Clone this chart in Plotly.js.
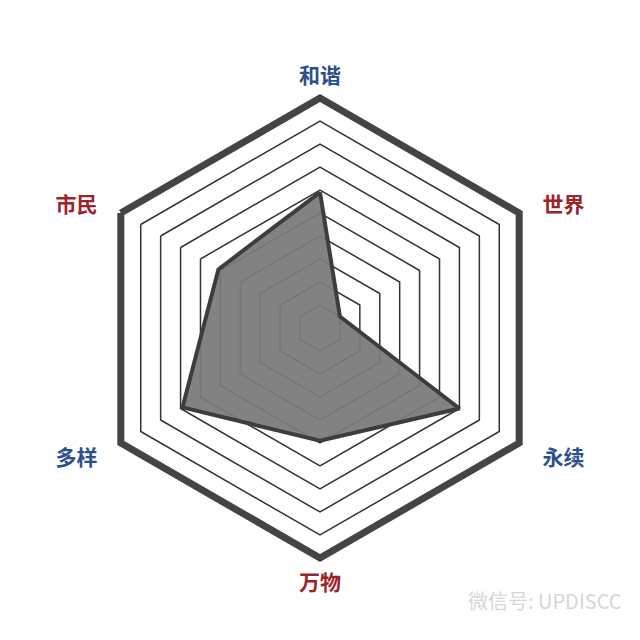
<!DOCTYPE html>
<html>
<head>
<meta charset="utf-8">
<script src="https://cdn.plot.ly/plotly-3.0.1.min.js"></script>
<style>
  html, body { margin: 0; padding: 0; background: #fff; }
  #chart { width: 640px; height: 640px; }
</style>
</head>
<body>
<div id="chart"></div>
<script>
// axes, clockwise from the top
var categories = ['和谐', '世界', '永续', '万物', '多样', '市民'];
var labelColors = ['#2d4f8e', '#9c2327', '#2d4f8e', '#9c2327', '#2d4f8e', '#9c2327'];
var scores = [5.9, 1.0, 7.0, 4.9, 6.9, 5.1];

// close the polygon
var theta = categories.concat([categories[0]]);
var r = scores.concat([scores[0]]);

// side labels sit a bit further out than the top/bottom ones
var pad = '&nbsp;&nbsp;&nbsp;';
var tickText = categories.map(function(c, i) {
  var t = '<b>' + c + '</b>';
  if (i == 1 || i == 2) t = pad + t;
  if (i == 4 || i == 5) t = t + pad;
  return '<span style="color:' + labelColors[i] + '">' + t + '</span>';
});

var data = [{
  type: 'scatterpolar',
  r: r,
  theta: theta,
  mode: 'lines',
  fill: 'toself',
  fillcolor: 'rgba(122,122,122,0.94)',
  line: { color: '#3d3d3d', width: 4 },
  hoverinfo: 'skip'
}];

var layout = {
  width: 640,
  height: 640,
  margin: { t: 98, b: 82, l: 90, r: 90 },
  paper_bgcolor: '#fff',
  showlegend: false,
  font: { family: '"Noto Sans CJK SC", "Noto Sans", sans-serif' },
  polar: {
    bgcolor: '#fff',
    gridshape: 'linear',
    radialaxis: {
      range: [0, 10],
      dtick: 1,
      showticklabels: false,
      ticks: '',
      showline: false,
      gridcolor: '#333',
      gridwidth: 1.5
    },
    angularaxis: {
      rotation: 90,
      direction: 'clockwise',
      tickvals: categories,
      ticktext: tickText,
      tickfont: { size: 21, family: '"Noto Sans CJK SC", sans-serif' },
      ticks: 'outside',
      ticklen: 3,
      tickcolor: 'rgba(0,0,0,0)',
      showgrid: false,
      showline: true,
      linecolor: '#444',
      linewidth: 7
    }
  },
  annotations: [{
    xref: 'paper', yref: 'paper',
    x: 1.16, y: -0.092,
    xanchor: 'right', yanchor: 'middle',
    showarrow: false,
    text: '微信号: UPDISCC',
    font: { size: 20, color: '#d6d6d6', family: '"Noto Sans CJK SC", sans-serif' }
  }]
};

Plotly.newPlot('chart', data, layout, { displayModeBar: false, staticPlot: true });
</script>
</body>
</html>
